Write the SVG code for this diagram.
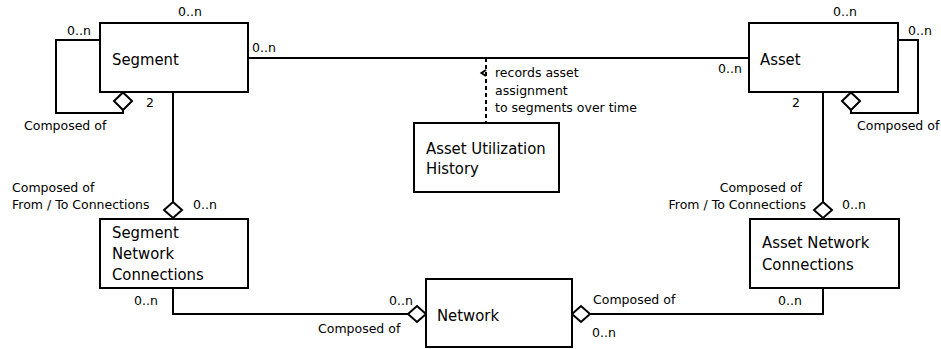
<svg xmlns="http://www.w3.org/2000/svg" width="941" height="349" viewBox="0 0 941 349">
<style>
.box{fill:#fff;stroke:#000;stroke-width:2}
.ln{fill:none;stroke:#000;stroke-width:2}
.dash{fill:none;stroke:#000;stroke-width:2;stroke-dasharray:4,3}
.dia{fill:#fff;stroke:#000;stroke-width:2}
.big{font-family:"DejaVu Sans Condensed","DejaVu Sans",sans-serif;font-size:16.5px;fill:#000}
.sm{font-family:"DejaVu Sans",sans-serif;font-size:12.5px;fill:#000}
</style>
<rect width="941" height="349" fill="#fff"/>
<g id="connectors">
<line class="ln" x1="248" y1="58" x2="749" y2="58"/>
<line class="dash" x1="486" y1="58" x2="486" y2="123"/>
<polyline class="ln" stroke-width="1.3" points="486,70 481.5,73 486,76"/>
<path class="ln" d="M100,40 H56 V113 H123 V110"/>
<polygon class="dia" points="123,92.5 132,101 123,110 114,101"/>
<path class="ln" d="M898,40 H918 V113 H851 V110"/>
<polygon class="dia" points="851,92.5 860,101 851,110 842,101"/>
<path class="ln" d="M173,92 V202"/>
<polygon class="dia" points="173,202 182,210 173,218 164,210"/>
<path class="ln" d="M823,92 V202"/>
<polygon class="dia" points="823,202 832,210 823,218 814,210"/>
<path class="ln" d="M173,288 V314 H408"/>
<polygon class="dia" points="408,314 417,306 426,314 417,322"/>
<path class="ln" d="M823,288 V314 H590"/>
<polygon class="dia" points="572,314 581,306 590,314 581,322"/>
<text class="sm" x="178" y="16">0..n</text>
<text class="sm" x="67" y="35">0..n</text>
<text class="sm" x="146" y="107">2</text>
<text class="sm" x="24" y="130">Composed of</text>
<text class="sm" x="252" y="52">0..n</text>
<text class="sm" x="833" y="16">0..n</text>
<text class="sm" x="908" y="35">0..n</text>
<text class="sm" x="718" y="73">0..n</text>
<text class="sm" x="792" y="107">2</text>
<text class="sm" x="857" y="130">Composed of</text>
<text class="sm" x="12" y="192">Composed of</text>
<text class="sm" x="12" y="209">From / To Connections</text>
<text class="sm" x="193" y="209">0..n</text>
<text class="sm" x="134" y="305">0..n</text>
<text class="sm" x="802" y="192" text-anchor="end">Composed of</text>
<text class="sm" x="806" y="209" text-anchor="end">From / To Connections</text>
<text class="sm" x="842" y="209">0..n</text>
<text class="sm" x="778" y="305">0..n</text>
<text class="sm" x="389" y="305">0..n</text>
<text class="sm" x="318" y="333">Composed of</text>
<text class="sm" x="593" y="304">Composed of</text>
<text class="sm" x="592" y="337">0..n</text>
<text class="sm" x="495" y="77">records asset</text>
<text class="sm" x="495" y="95">assignment</text>
<text class="sm" x="495" y="112">to segments over time</text>
</g>
<g id="segment">
<rect class="box" x="100" y="23" width="148" height="69"/>
<text class="big" x="112" y="65">Segment</text>
</g>
<g id="asset">
<rect class="box" x="749" y="23" width="149" height="69"/>
<text class="big" x="760" y="65">Asset</text>
</g>
<g id="asset-utilization-history">
<rect class="box" x="414" y="123" width="145" height="69"/>
<text class="big" x="426" y="154">Asset Utilization</text>
<text class="big" x="426" y="174">History</text>
</g>
<g id="segment-network-connections">
<rect class="box" x="100" y="219" width="148" height="69"/>
<text class="big" x="112" y="238">Segment</text>
<text class="big" x="112" y="259">Network</text>
<text class="big" x="112" y="280">Connections</text>
</g>
<g id="asset-network-connections">
<rect class="box" x="750" y="219" width="149" height="69"/>
<text class="big" x="762" y="248">Asset Network</text>
<text class="big" x="762" y="270">Connections</text>
</g>
<g id="network">
<rect class="box" x="426" y="279" width="146" height="68"/>
<text class="big" x="437" y="321">Network</text>
</g>
</svg>
